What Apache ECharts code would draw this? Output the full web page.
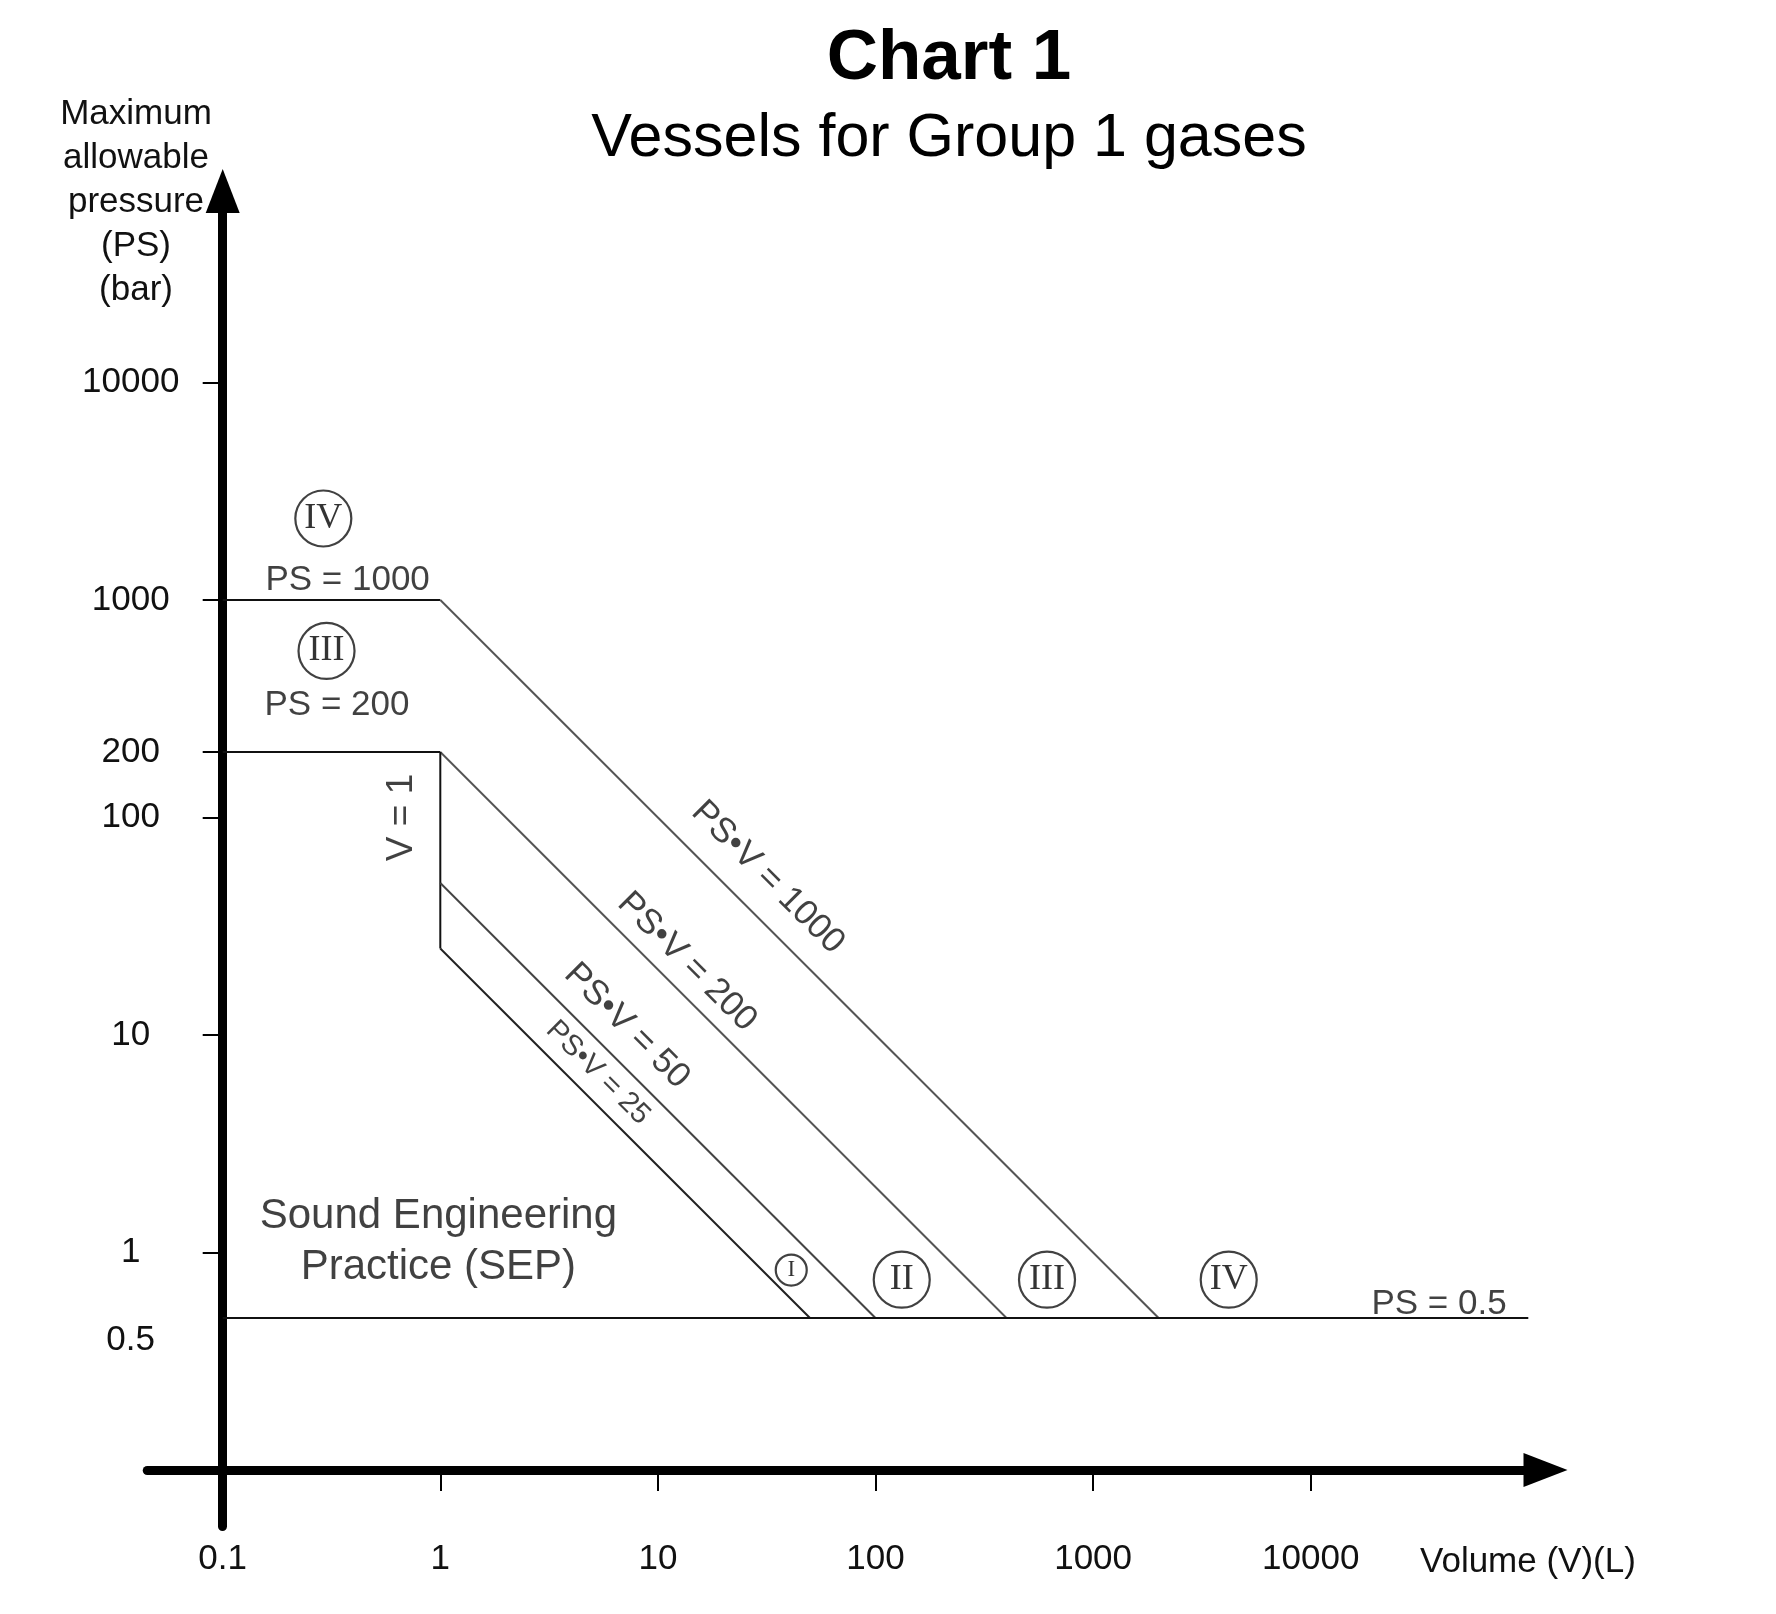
<!DOCTYPE html>
<html>
<head>
<meta charset="utf-8">
<title>Chart 1 - Vessels for Group 1 gases</title>
<script src="https://cdn.jsdelivr.net/npm/echarts@6/dist/echarts.min.js"></script>
<style>
  html, body { margin: 0; padding: 0; background: #fff; }
  #main { width: 1776px; height: 1614px; }
</style>
</head>
<body>
<div id="main"></div>
<script>
// boundary lines, [V (L), PS (bar)]
var psTop  = [[0.1, 1000], [1, 1000]];      // PS = 1000
var psvTop = [[1, 1000], [2000, 0.5]];      // PS.V = 1000
var psMid  = [[0.1, 200], [1, 200]];        // PS = 200
var psvMid = [[1, 200], [400, 0.5]];        // PS.V = 200
var vOne   = [[1, 200], [1, 25]];           // V = 1
var psv50  = [[1, 50], [100, 0.5]];         // PS.V = 50
var psv25  = [[1, 25], [50, 0.5]];          // PS.V = 25
var psLow  = [[0.1, 0.5], [100000, 0.5]];   // PS = 0.5

// axis ticks / labels
var xTicks  = [1, 10, 100, 1000, 10000];
var xLabels = [0.1, 1, 10, 100, 1000, 10000];
var yTicks  = [1, 10, 100, 200, 1000, 10000];
var yLabels = [0.5, 1, 10, 100, 200, 1000, 10000];

// category marks (circled numerals)
var categories = [
    {name: 'IV',  at: [0.29, 2370]},
    {name: 'III', at: [0.30, 583]},
    {name: 'I',   at: [41, 0.83], small: true},
    {name: 'II',  at: [132, 0.75]},
    {name: 'III', at: [614, 0.75]},
    {name: 'IV',  at: [4200, 0.75]}
];

// text notes
var notes = [
    {text: 'PS = 1000', at: [0.375, 1230]},
    {text: 'PS = 200', at: [0.335, 329]},
    {text: 'V = 1', at: [0.667, 100], rotate: 90, size: 37},
    {text: 'PS\u2022V = 1000', at: [32, 53], rotate: -45},
    {text: 'PS\u2022V = 200', at: [13.6, 21.7], rotate: -45},
    {text: 'PS\u2022V = 50', at: [7.2, 11], rotate: -45},
    {text: 'PS\u2022V = 25', at: [5.3, 6.7], rotate: -45, size: 29},
    {text: 'Sound Engineering\nPractice (SEP)', at: [0.98, 1.12], size: 42, lh: 51},
    {text: 'PS = 0.5', at: [38900, 0.58]}
];

var FONT = "'Liberation Sans', Arial, sans-serif";
var SERIF = "'Liberation Serif', 'Times New Roman', serif";

function num(v) { return String(+(+v).toPrecision(6)); }

function seg(name, data, color) {
    return {
        name: name, type: 'line', data: data, symbol: 'none', silent: true,
        lineStyle: {color: color, width: 2}
    };
}

var myChart = echarts.init(document.getElementById('main'));
var option = {
    animation: false,
    backgroundColor: '#fff',
    title: [
        {text: 'Chart 1', left: 944, top: 19, textAlign: 'center',
         textStyle: {fontFamily: FONT, fontSize: 71, fontWeight: 'bold', color: '#000'}},
        {text: 'Vessels for Group 1 gases', left: 944, top: 104, textAlign: 'center',
         textStyle: {fontFamily: FONT, fontSize: 61, fontWeight: 'normal', color: '#000'}},
        {text: 'Maximum\nallowable\npressure\n(PS)\n(bar)', left: 131, top: 87, textAlign: 'center',
         textStyle: {fontFamily: FONT, fontSize: 35, lineHeight: 44, fontWeight: 'normal', color: '#111'}},
        {text: 'Volume (V)(L)', left: 1415, top: 1540,
         textStyle: {fontFamily: FONT, fontSize: 35, fontWeight: 'normal', color: '#111'}}
    ],
    grid: {left: 147.24, top: 190.92, width: 1398.29, height: 1335.55, containLabel: false, outerBoundsMode: 'none'},
    xAxis: {
        type: 'log', logBase: 10, min: 0.045, max: 120000, offset: -56.47,
        axisLine: {show: true, symbol: ['none', 'triangle'], symbolSize: [34, 44],
                   lineStyle: {color: '#000', width: 9}},
        axisTick: {show: true, length: 21, customValues: xTicks, lineStyle: {color: '#000', width: 2}},
        axisLabel: {show: true, customValues: xLabels, margin: 89, verticalAlign: 'middle',
                    fontFamily: FONT, fontSize: 35, color: '#111', formatter: num},
        splitLine: {show: false}, minorTick: {show: false}
    },
    yAxis: {
        type: 'log', logBase: 10, min: 0.055, max: 76000, offset: -75.46,
        axisLine: {show: true, symbol: ['none', 'triangle'], symbolSize: [34, 44],
                   lineStyle: {color: '#000', width: 9}},
        axisTick: {show: true, length: 20, customValues: yTicks, lineStyle: {color: '#000', width: 2}},
        axisLabel: {show: true, customValues: yLabels, margin: 92, align: 'center',
                    fontFamily: FONT, fontSize: 35, color: '#111',
                    formatter: function (v) { return +v === 0.5 ? '{low|0.5}' : num(v); },
                    rich: {low: {fontFamily: FONT, fontSize: 35, color: '#111', padding: [44, 0, 0, 0]}}},
        splitLine: {show: false}, minorTick: {show: false}
    },
    series: [
        seg('PS = 1000', psTop, '#111'),
        seg('PS.V = 1000', psvTop, '#555'),
        seg('PS = 200', psMid, '#111'),
        seg('PS.V = 200', psvMid, '#555'),
        seg('V = 1', vOne, '#111'),
        seg('PS.V = 50', psv50, '#444'),
        seg('PS.V = 25', psv25, '#222'),
        seg('PS = 0.5', psLow, '#111'),
        {
            name: 'categories', type: 'scatter', silent: true, z: 5,
            data: categories.map(function (c) {
                return {
                    value: c.at, name: c.name,
                    symbolSize: c.small ? 31 : 56,
                    label: {fontSize: c.small ? 23 : 36}
                };
            }),
            symbol: 'circle',
            itemStyle: {color: '#fff', borderColor: '#111', borderWidth: 2.2},
            label: {show: true, position: 'inside', formatter: '{b}', fontFamily: SERIF, color: '#000'}
        },
        {
            name: 'notes', type: 'scatter', silent: true, z: 6, symbolSize: 0,
            data: notes.map(function (n) {
                return {
                    value: n.at, name: n.text,
                    label: {rotate: n.rotate || 0, fontSize: n.size || 35, lineHeight: n.lh}
                };
            }),
            label: {show: true, position: 'inside', formatter: '{b}', fontFamily: FONT, color: '#111',
                    align: 'center', verticalAlign: 'middle'}
        }
    ]
};
myChart.setOption(option, true);
</script>
</body>
</html>
